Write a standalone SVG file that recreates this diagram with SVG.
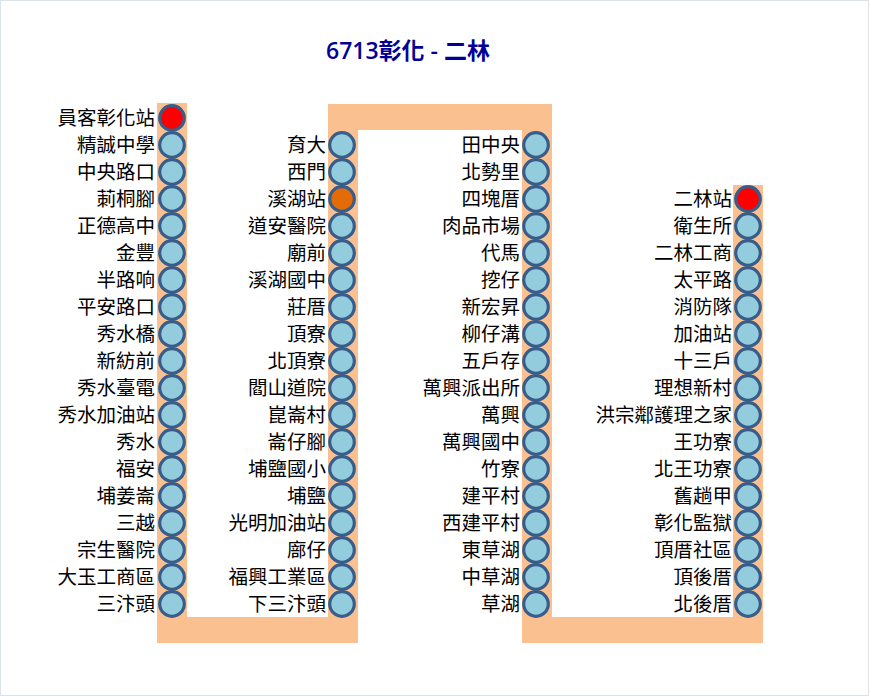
<svg xmlns="http://www.w3.org/2000/svg" width="869" height="696" viewBox="0 0 869 696">
<style>
.band{fill:#FAC090;stroke:none}
.stop{fill:#93CDDD;stroke:#385D8A;stroke-width:3.2}
.start{fill:#FF0000;stroke:#385D8A;stroke-width:3.2}
.mid{fill:#E36C09;stroke:#385D8A;stroke-width:3.2}
.lbl{font-family:"Noto Sans CJK TC","Noto Sans CJK SC",sans-serif;font-size:19.5px;fill:#000;text-anchor:end}
.title{font-family:"Open Sans","Noto Sans CJK TC",sans-serif;font-size:23px;font-weight:600;fill:#000099;text-anchor:middle}
</style>
<rect x="0" y="0" width="869" height="696" fill="#fff"/>
<rect x="0.5" y="0.5" width="868" height="695" fill="none" stroke="#dde3ea" stroke-width="1"/>
<text class="title" x="408" y="59">6713彰化 - 二林</text>
<g id="connectors">
<rect class="band" x="157" y="103" width="30" height="540"/>
<rect class="band" x="157" y="617" width="201" height="26"/>
<rect class="band" x="328" y="104" width="30" height="539"/>
<rect class="band" x="328" y="104" width="224" height="26"/>
<rect class="band" x="522" y="104" width="30" height="539"/>
<rect class="band" x="522" y="617" width="241" height="26"/>
<rect class="band" x="733" y="185" width="30" height="458"/>
</g>
<g id="col1">
<g id="s1-01"><circle class="start" cx="172" cy="118" r="12.3"/><text class="lbl" x="155" y="125">員客彰化站</text></g>
<g id="s1-02"><circle class="stop" cx="172" cy="145" r="12.3"/><text class="lbl" x="155" y="152">精誠中學</text></g>
<g id="s1-03"><circle class="stop" cx="172" cy="172" r="12.3"/><text class="lbl" x="155" y="179">中央路口</text></g>
<g id="s1-04"><circle class="stop" cx="172" cy="199" r="12.3"/><text class="lbl" x="155" y="206">莿桐腳</text></g>
<g id="s1-05"><circle class="stop" cx="172" cy="226" r="12.3"/><text class="lbl" x="155" y="233">正德高中</text></g>
<g id="s1-06"><circle class="stop" cx="172" cy="253" r="12.3"/><text class="lbl" x="155" y="260">金豐</text></g>
<g id="s1-07"><circle class="stop" cx="172" cy="280" r="12.3"/><text class="lbl" x="155" y="287">半路响</text></g>
<g id="s1-08"><circle class="stop" cx="172" cy="307" r="12.3"/><text class="lbl" x="155" y="314">平安路口</text></g>
<g id="s1-09"><circle class="stop" cx="172" cy="334" r="12.3"/><text class="lbl" x="155" y="341">秀水橋</text></g>
<g id="s1-10"><circle class="stop" cx="172" cy="361" r="12.3"/><text class="lbl" x="155" y="368">新紡前</text></g>
<g id="s1-11"><circle class="stop" cx="172" cy="388" r="12.3"/><text class="lbl" x="155" y="395">秀水臺電</text></g>
<g id="s1-12"><circle class="stop" cx="172" cy="415" r="12.3"/><text class="lbl" x="155" y="422">秀水加油站</text></g>
<g id="s1-13"><circle class="stop" cx="172" cy="442" r="12.3"/><text class="lbl" x="155" y="449">秀水</text></g>
<g id="s1-14"><circle class="stop" cx="172" cy="469" r="12.3"/><text class="lbl" x="155" y="476">福安</text></g>
<g id="s1-15"><circle class="stop" cx="172" cy="496" r="12.3"/><text class="lbl" x="155" y="503">埔姜崙</text></g>
<g id="s1-16"><circle class="stop" cx="172" cy="523" r="12.3"/><text class="lbl" x="155" y="530">三越</text></g>
<g id="s1-17"><circle class="stop" cx="172" cy="550" r="12.3"/><text class="lbl" x="155" y="557">宗生醫院</text></g>
<g id="s1-18"><circle class="stop" cx="172" cy="577" r="12.3"/><text class="lbl" x="155" y="584">大玉工商區</text></g>
<g id="s1-19"><circle class="stop" cx="172" cy="604" r="12.3"/><text class="lbl" x="155" y="611">三汴頭</text></g>
</g>
<g id="col2">
<g id="s2-01"><circle class="stop" cx="342" cy="145" r="12.3"/><text class="lbl" x="326" y="152">育大</text></g>
<g id="s2-02"><circle class="stop" cx="342" cy="172" r="12.3"/><text class="lbl" x="326" y="179">西門</text></g>
<g id="s2-03"><circle class="mid" cx="342" cy="199" r="12.3"/><text class="lbl" x="326" y="206">溪湖站</text></g>
<g id="s2-04"><circle class="stop" cx="342" cy="226" r="12.3"/><text class="lbl" x="326" y="233">道安醫院</text></g>
<g id="s2-05"><circle class="stop" cx="342" cy="253" r="12.3"/><text class="lbl" x="326" y="260">廟前</text></g>
<g id="s2-06"><circle class="stop" cx="342" cy="280" r="12.3"/><text class="lbl" x="326" y="287">溪湖國中</text></g>
<g id="s2-07"><circle class="stop" cx="342" cy="307" r="12.3"/><text class="lbl" x="326" y="314">莊厝</text></g>
<g id="s2-08"><circle class="stop" cx="342" cy="334" r="12.3"/><text class="lbl" x="326" y="341">頂寮</text></g>
<g id="s2-09"><circle class="stop" cx="342" cy="361" r="12.3"/><text class="lbl" x="326" y="368">北頂寮</text></g>
<g id="s2-10"><circle class="stop" cx="342" cy="388" r="12.3"/><text class="lbl" x="326" y="395">閻山道院</text></g>
<g id="s2-11"><circle class="stop" cx="342" cy="415" r="12.3"/><text class="lbl" x="326" y="422">崑崙村</text></g>
<g id="s2-12"><circle class="stop" cx="342" cy="442" r="12.3"/><text class="lbl" x="326" y="449">崙仔腳</text></g>
<g id="s2-13"><circle class="stop" cx="342" cy="469" r="12.3"/><text class="lbl" x="326" y="476">埔鹽國小</text></g>
<g id="s2-14"><circle class="stop" cx="342" cy="496" r="12.3"/><text class="lbl" x="326" y="503">埔鹽</text></g>
<g id="s2-15"><circle class="stop" cx="342" cy="523" r="12.3"/><text class="lbl" x="326" y="530">光明加油站</text></g>
<g id="s2-16"><circle class="stop" cx="342" cy="550" r="12.3"/><text class="lbl" x="326" y="557">廍仔</text></g>
<g id="s2-17"><circle class="stop" cx="342" cy="577" r="12.3"/><text class="lbl" x="326" y="584">福興工業區</text></g>
<g id="s2-18"><circle class="stop" cx="342" cy="604" r="12.3"/><text class="lbl" x="326" y="611">下三汴頭</text></g>
</g>
<g id="col3">
<g id="s3-01"><circle class="stop" cx="536" cy="145" r="12.3"/><text class="lbl" x="520" y="152">田中央</text></g>
<g id="s3-02"><circle class="stop" cx="536" cy="172" r="12.3"/><text class="lbl" x="520" y="179">北勢里</text></g>
<g id="s3-03"><circle class="stop" cx="536" cy="199" r="12.3"/><text class="lbl" x="520" y="206">四塊厝</text></g>
<g id="s3-04"><circle class="stop" cx="536" cy="226" r="12.3"/><text class="lbl" x="520" y="233">肉品市場</text></g>
<g id="s3-05"><circle class="stop" cx="536" cy="253" r="12.3"/><text class="lbl" x="520" y="260">代馬</text></g>
<g id="s3-06"><circle class="stop" cx="536" cy="280" r="12.3"/><text class="lbl" x="520" y="287">挖仔</text></g>
<g id="s3-07"><circle class="stop" cx="536" cy="307" r="12.3"/><text class="lbl" x="520" y="314">新宏昇</text></g>
<g id="s3-08"><circle class="stop" cx="536" cy="334" r="12.3"/><text class="lbl" x="520" y="341">柳仔溝</text></g>
<g id="s3-09"><circle class="stop" cx="536" cy="361" r="12.3"/><text class="lbl" x="520" y="368">五戶存</text></g>
<g id="s3-10"><circle class="stop" cx="536" cy="388" r="12.3"/><text class="lbl" x="520" y="395">萬興派出所</text></g>
<g id="s3-11"><circle class="stop" cx="536" cy="415" r="12.3"/><text class="lbl" x="520" y="422">萬興</text></g>
<g id="s3-12"><circle class="stop" cx="536" cy="442" r="12.3"/><text class="lbl" x="520" y="449">萬興國中</text></g>
<g id="s3-13"><circle class="stop" cx="536" cy="469" r="12.3"/><text class="lbl" x="520" y="476">竹寮</text></g>
<g id="s3-14"><circle class="stop" cx="536" cy="496" r="12.3"/><text class="lbl" x="520" y="503">建平村</text></g>
<g id="s3-15"><circle class="stop" cx="536" cy="523" r="12.3"/><text class="lbl" x="520" y="530">西建平村</text></g>
<g id="s3-16"><circle class="stop" cx="536" cy="550" r="12.3"/><text class="lbl" x="520" y="557">東草湖</text></g>
<g id="s3-17"><circle class="stop" cx="536" cy="577" r="12.3"/><text class="lbl" x="520" y="584">中草湖</text></g>
<g id="s3-18"><circle class="stop" cx="536" cy="604" r="12.3"/><text class="lbl" x="520" y="611">草湖</text></g>
</g>
<g id="col4">
<g id="s4-01"><circle class="start" cx="748" cy="199" r="12.3"/><text class="lbl" x="732" y="206">二林站</text></g>
<g id="s4-02"><circle class="stop" cx="748" cy="226" r="12.3"/><text class="lbl" x="732" y="233">衛生所</text></g>
<g id="s4-03"><circle class="stop" cx="748" cy="253" r="12.3"/><text class="lbl" x="732" y="260">二林工商</text></g>
<g id="s4-04"><circle class="stop" cx="748" cy="280" r="12.3"/><text class="lbl" x="732" y="287">太平路</text></g>
<g id="s4-05"><circle class="stop" cx="748" cy="307" r="12.3"/><text class="lbl" x="732" y="314">消防隊</text></g>
<g id="s4-06"><circle class="stop" cx="748" cy="334" r="12.3"/><text class="lbl" x="732" y="341">加油站</text></g>
<g id="s4-07"><circle class="stop" cx="748" cy="361" r="12.3"/><text class="lbl" x="732" y="368">十三戶</text></g>
<g id="s4-08"><circle class="stop" cx="748" cy="388" r="12.3"/><text class="lbl" x="732" y="395">理想新村</text></g>
<g id="s4-09"><circle class="stop" cx="748" cy="415" r="12.3"/><text class="lbl" x="732" y="422">洪宗鄰護理之家</text></g>
<g id="s4-10"><circle class="stop" cx="748" cy="442" r="12.3"/><text class="lbl" x="732" y="449">王功寮</text></g>
<g id="s4-11"><circle class="stop" cx="748" cy="469" r="12.3"/><text class="lbl" x="732" y="476">北王功寮</text></g>
<g id="s4-12"><circle class="stop" cx="748" cy="496" r="12.3"/><text class="lbl" x="732" y="503">舊趟甲</text></g>
<g id="s4-13"><circle class="stop" cx="748" cy="523" r="12.3"/><text class="lbl" x="732" y="530">彰化監獄</text></g>
<g id="s4-14"><circle class="stop" cx="748" cy="550" r="12.3"/><text class="lbl" x="732" y="557">頂厝社區</text></g>
<g id="s4-15"><circle class="stop" cx="748" cy="577" r="12.3"/><text class="lbl" x="732" y="584">頂後厝</text></g>
<g id="s4-16"><circle class="stop" cx="748" cy="604" r="12.3"/><text class="lbl" x="732" y="611">北後厝</text></g>
</g>
</svg>
